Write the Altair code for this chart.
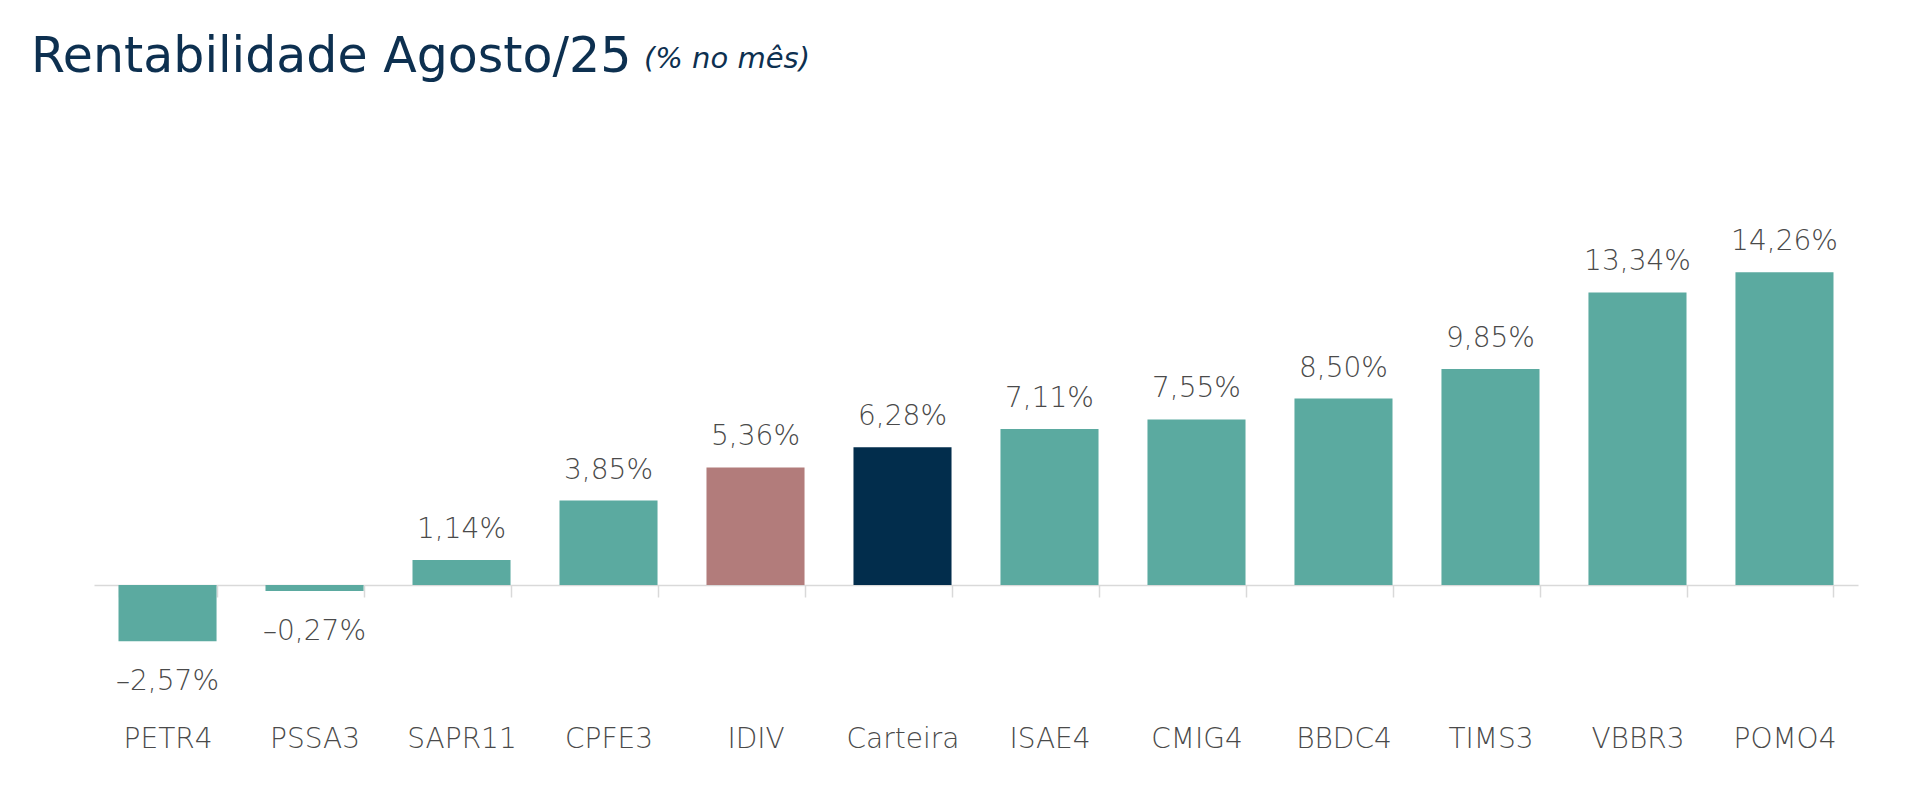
import altair as alt
import pandas as pd

# ---- data ----
tickers = ["PETR4", "PSSA3", "SAPR11", "CPFE3", "IDIV", "Carteira",
           "ISAE4", "CMIG4", "BBDC4", "TIMS3", "VBBR3", "POMO4"]
values = [-2.57, -0.27, 1.14, 3.85, 5.36, 6.28, 7.11, 7.55, 8.50, 9.85, 13.34, 14.26]
tipos = ["Ação", "Ação", "Ação", "Ação", "Índice", "Carteira",
         "Ação", "Ação", "Ação", "Ação", "Ação", "Ação"]
title_main = ["Rentabilidade Agosto/25"]
title_sub = ["(% no mês)"]

df = pd.DataFrame({"ticker": tickers, "valor": values, "tipo": tipos})

TEAL = "#5BAAA0"
ROSE = "#B27C7B"
NAVY = "#022D4C"
GRAY = "#4A4A4A"
FONT = "DejaVu Sans"

W, H = 1764, 329

base = alt.Chart(df).encode(
    x=alt.X(
        "ticker:N", sort=tickers, title=None,
        scale=alt.Scale(paddingInner=0.333, paddingOuter=0.1667),
        axis=alt.Axis(
            labelAngle=0, grid=False,
            domainColor="#d9d9d9", domainWidth=1.5,
            tickColor="#d9d9d9", tickWidth=1.5, tickSize=12, tickBand="extent",
            labelPadding=128, labelFont=FONT, labelFontSize=28,
            labelFontWeight=200, labelColor=GRAY,
        ),
    ),
    y=alt.Y("valor:Q", scale=alt.Scale(domain=[0, 15], nice=False, zero=True), axis=None),
)

bars = base.mark_bar().encode(
    color=alt.Color(
        "tipo:N",
        scale=alt.Scale(domain=["Ação", "Índice", "Carteira"], range=[TEAL, ROSE, NAVY]),
        legend=None,
    )
)

lbl_expr = ("(datum.valor < 0 ? '\u2013' : '') + "
            "replace(format(abs(datum.valor), '.2f'), '.', ',') + '%'")

pos_lbl = base.transform_calculate(lbl=lbl_expr).transform_filter(
    "datum.valor >= 0"
).mark_text(
    baseline="alphabetic", dy=-22, font=FONT, fontSize=28, fontWeight=200, color=GRAY
).encode(text="lbl:N")

neg_lbl = base.transform_calculate(lbl=lbl_expr).transform_filter(
    "datum.valor < 0"
).mark_text(
    baseline="alphabetic", dy=49, font=FONT, fontSize=28, fontWeight=200, color=GRAY
).encode(text="lbl:N")

t_main = alt.Chart(pd.DataFrame({"t": title_main})).mark_text(
    align="left", baseline="alphabetic", font=FONT, fontSize=49, fontWeight="normal",
    color="#0D3050"
).encode(text="t:N", x=alt.value(-63), y=alt.value(-184))

t_sub = alt.Chart(pd.DataFrame({"t": title_sub})).mark_text(
    align="left", baseline="alphabetic", font=FONT, fontSize=29, fontStyle="italic",
    color="#0D3050"
).encode(text="t:N", x=alt.value(550), y=alt.value(-188))

chart = alt.layer(bars, pos_lbl, neg_lbl, t_main, t_sub).properties(
    width=W, height=H,
    padding={"left": 86, "top": 248, "right": 40, "bottom": 185},
    autosize=alt.AutoSizeParams(type="none"),
    background="white",
).configure_view(stroke=None)

chart.save("out.html", embed_options={"renderer": "svg", "actions": False})
